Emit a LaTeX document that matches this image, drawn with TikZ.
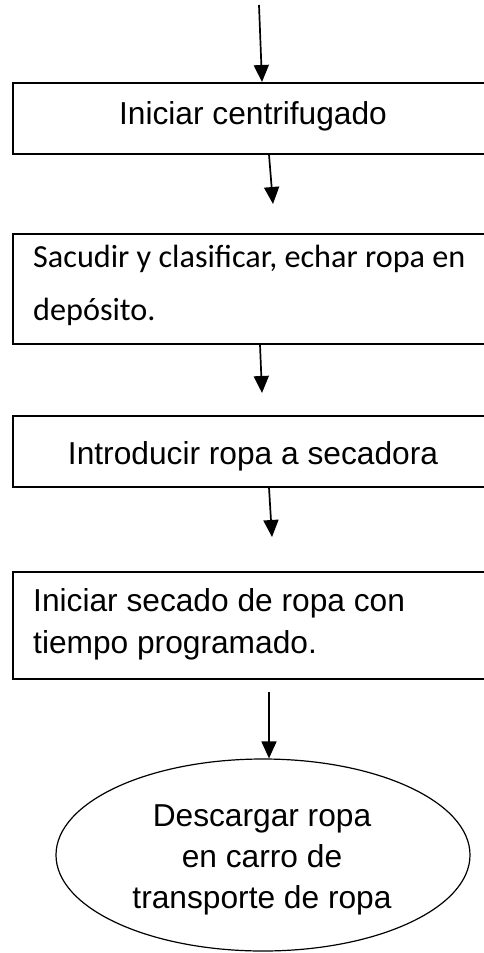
\documentclass[tikz,border=0pt]{standalone}
\usepackage{fontspec}
\setmainfont{Liberation Sans}
\newfontfamily\calibrifont{Carlito}
\usetikzlibrary{arrows.meta,shapes.geometric,calc}
\begin{document}
\begin{tikzpicture}[x=1pt,y=-1pt,
  box/.style={draw, line width=1.6pt, rectangle, inner sep=0pt, anchor=north west, minimum width=480pt},
  lbl/.style={inner sep=0pt, font=\fontsize{31.7}{38}\selectfont},
  clbl/.style={inner sep=0pt, font=\calibrifont\fontsize{32.2}{38}\selectfont},
  arr/.style={line width=1.7pt, -{Triangle[length=17pt,width=15pt]}}]
\useasboundingbox (0,0) rectangle (484,953);
\clip (0,0) rectangle (484,953);
% boxes
\node[box, minimum height=71pt] (b1) at (12,82) {};
\node[box, minimum height=110pt] (b2) at (12,233) {};
\node[box, minimum height=71pt] (b3) at (12,415) {};
\node[box, minimum height=107pt] (b4) at (12,571) {};
\node[draw, ellipse, line width=1.2pt, minimum width=414pt, minimum height=192pt, inner sep=0pt] (e) at (263,855) {};
% texts
\node[lbl, anchor=base] (t1) at (253,124) {Iniciar centrifugado};
\node[clbl, anchor=base west] (t2a) at (33,267) {Sacudir y clasificar, echar ropa en};
\node[clbl, anchor=base west] (t2b) at (33,320) {depósito.};
\node[lbl, anchor=base] (t3) at (253,464) {Introducir ropa a secadora};
\node[lbl, anchor=base west] (t4a) at (33,611) {Iniciar secado de ropa con};
\node[lbl, anchor=base west] (t4b) at (33,653) {tiempo programado.};
\node[lbl, anchor=base] (t5a) at (262,826) {Descargar ropa};
\node[lbl, anchor=base] (t5b) at (262,867) {en carro de};
\node[lbl, anchor=base] (t5c) at (262,908) {transporte de ropa};
% connectors
\coordinate (s0) at (259,5);
\coordinate (a2e) at (273,204);
\coordinate (a3e) at (262,393);
\coordinate (a4e) at (272,537);
\coordinate (a5s) at (269,692);
\draw[arr] (s0) -- ($(b1.north west)+(250,0)$);
\draw[arr] ($(b1.south west)+(257,0)$) -- (a2e);
\draw[arr] ($(b2.south west)+(248,0)$) -- (a3e);
\draw[arr] ($(b3.south west)+(257,0)$) -- (a4e);
\draw[arr] (a5s) -- ($(e.north)+(6,0)$);
\end{tikzpicture}
\end{document}
